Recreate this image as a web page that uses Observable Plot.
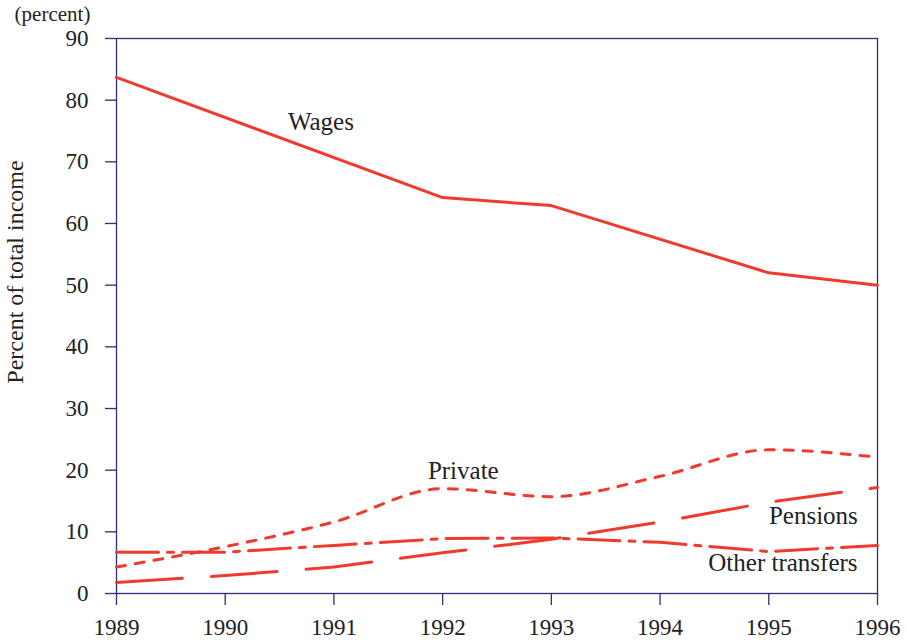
<!DOCTYPE html>
<html>
<head>
<meta charset="utf-8">
<script src="https://cdn.jsdelivr.net/npm/d3@7"></script>
<script src="https://cdn.jsdelivr.net/npm/@observablehq/plot@0.6"></script>
<style>
  html, body { margin: 0; padding: 0; background: #fff; }
  #chart { width: 907px; height: 642px; }
  #chart svg, #chart svg text { font-family: "Liberation Serif", "DejaVu Serif", serif !important; }
</style>
</head>
<body>
<div id="chart"></div>
<script>
// ---- data ----
const years = [1989, 1990, 1991, 1992, 1993, 1994, 1995, 1996];
const wagesYears = [1989, 1992, 1993, 1995, 1996];
const wagesValues = [83.7, 64.2, 62.9, 52.0, 50.0];
const privateValues = [4.3, 7.6, 11.6, 17.0, 15.7, 19.0, 23.3, 22.1];
const pensionsValues = [1.8, 2.9, 4.3, 6.6, 8.8, 11.6, 14.8, 17.2];
const otherValues = [6.7, 6.7, 7.8, 8.9, 9.0, 8.3, 6.8, 7.8];
const yTicks = [0, 10, 20, 30, 40, 50, 60, 70, 80, 90];
const seriesLabels = ["Wages", "Private", "Pensions", "Other transfers"];
const labelYears = [1990.88, 1992.19, 1995.41, 1995.13];
const labelValues = [76.4, 19.9, 12.6, 4.9];

const red = "#ef3a2d";
const navy = "#2e2e72";
const font = "Liberation Serif";

const wages = wagesYears.map((year, i) => ({year, value: wagesValues[i]}));
const priv = years.map((year, i) => ({year, value: privateValues[i]}));
const pensions = years.map((year, i) => ({year, value: pensionsValues[i]}));
const other = years.map((year, i) => ({year, value: otherValues[i]}));
const labels = seriesLabels.map((name, i) => ({name, year: labelYears[i], value: labelValues[i]}));

const chart = Plot.plot({
  width: 907,
  height: 642,
  marginLeft: 116,
  marginRight: 30,
  marginTop: 38,
  marginBottom: 49,
  style: {fontFamily: font, background: "#fff", color: "#222"},
  x: {domain: [1989, 1996]},
  y: {domain: [0, 90]},
  marks: [
    Plot.frame({stroke: navy, strokeWidth: 1.3}),
    Plot.axisX({ticks: years, tickFormat: "d", tickSize: 12, tickPadding: 13, fontSize: 23, stroke: navy, strokeWidth: 1.3, label: null, fill: "#222"}),
    Plot.axisY({ticks: yTicks, tickSize: 11, tickPadding: 17, fontSize: 23, stroke: navy, strokeWidth: 1.3, label: null, fill: "#222"}),
    Plot.line(wages, {x: "year", y: "value", stroke: red, strokeWidth: 3}),
    Plot.line(priv, {x: "year", y: "value", stroke: red, strokeWidth: 3, strokeDasharray: "9 10", curve: "monotone-x"}),
    Plot.line(pensions, {x: "year", y: "value", stroke: red, strokeWidth: 3, strokeDasharray: "66 29"}),
    Plot.line(other, {x: "year", y: "value", stroke: red, strokeWidth: 3, strokeDasharray: "42 9 6 9"}),
    Plot.text(labels, {x: "year", y: "value", text: "name", fontSize: 25, fill: "#222", textAnchor: "middle", lineAnchor: "middle"}),
    Plot.text(["(percent)"], {frameAnchor: "top-left", dx: -64, dy: -24, fontSize: 21, fill: "#222", textAnchor: "middle", lineAnchor: "middle"}),
    Plot.text(["Percent of total income"], {frameAnchor: "left", dx: -101, dy: -44, rotate: -90, fontSize: 24, fill: "#222", textAnchor: "middle", lineAnchor: "middle"})
  ]
});
document.getElementById("chart").appendChild(chart);
</script>
</body>
</html>
